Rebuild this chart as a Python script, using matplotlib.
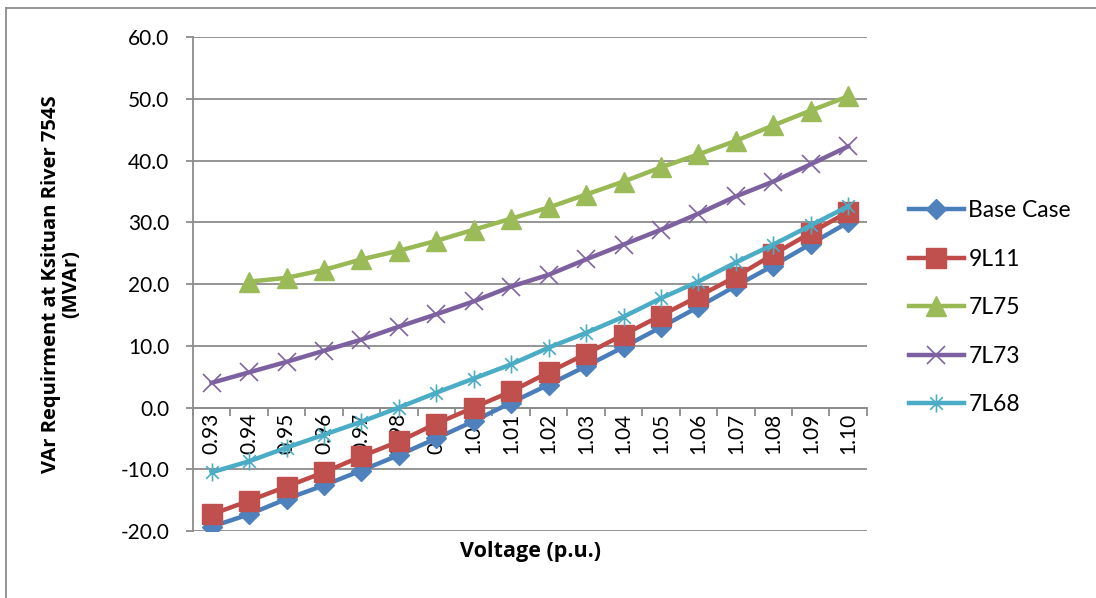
import numpy as np
import matplotlib.pyplot as plt
from matplotlib.lines import Line2D
from matplotlib.path import Path

plt.rcParams['font.family'] = ['Lato', 'DejaVu Sans']

voltages = ['0.93', '0.94', '0.95', '0.96', '0.97', '0.98', '0.99', '1.00', '1.01',
            '1.02', '1.03', '1.04', '1.05', '1.06', '1.07', '1.08', '1.09', '1.10']

base_case = [-19.3, -17.3, -14.8, -12.6, -10.2, -7.7, -5.0, -2.2, 0.8,
             3.7, 6.7, 9.8, 13.0, 16.3, 19.7, 23.0, 26.5, 30.0]
l9l11 = [-17.3, -15.1, -12.8, -10.5, -7.9, -5.5, -2.6, 0.0, 2.6,
         5.7, 8.7, 11.8, 14.9, 18.0, 21.2, 24.8, 28.3, 31.7]
l7l75 = [np.nan, 20.4, 21.0, 22.3, 24.0, 25.4, 27.0, 28.8, 30.6,
         32.4, 34.5, 36.6, 38.9, 41.0, 43.2, 45.7, 48.1, 50.4]
l7l73 = [4.0, 5.7, 7.4, 9.2, 11.0, 13.1, 15.1, 17.2, 19.6,
         21.5, 24.0, 26.4, 28.8, 31.4, 34.2, 36.6, 39.4, 42.3]
l7l68 = [-10.5, -8.7, -6.5, -4.4, -2.3, 0.0, 2.4, 4.7, 7.0,
         9.7, 12.1, 14.7, 17.7, 20.4, 23.5, 26.4, 29.5, 32.6]

# asterisk marker like excel's (x with a vertical bar)
star = Path([(0, -1), (0, 1), (-0.7, -0.7), (0.7, 0.7), (-0.7, 0.7), (0.7, -0.7)],
            [Path.MOVETO, Path.LINETO, Path.MOVETO, Path.LINETO, Path.MOVETO, Path.LINETO])

fig = plt.figure(figsize=(10.96, 5.98), dpi=100)
ax = fig.add_axes([0.176, 0.112, 0.615, 0.826])

x = np.arange(len(voltages))
lw = 3.2
ax.plot(x, base_case, color='#4A7EBB', lw=lw, marker='D', ms=10.5,
        mfc='#4F81BD', mec='#4F81BD', label='Base Case', zorder=3)
ax.plot(x, l9l11, color='#BE4B48', lw=lw, marker='s', ms=14,
        mfc='#C0504D', mec='#C0504D', label='9L11', zorder=3)
ax.plot(x, l7l75, color='#98B954', lw=lw, marker='^', ms=15,
        mfc='#9BBB59', mec='#9BBB59', label='7L75', zorder=3)
ax.plot(x, l7l73, color='#7D60A0', lw=lw, marker='x', ms=13, mew=1.2,
        mec='#8064A2', label='7L73', zorder=3)
ax.plot(x, l7l68, color='#4BACC6', lw=lw, marker=star, ms=13, mew=1.2,
        mec='#4BACC6', label='7L68', zorder=3)

ax.set_xlim(-0.5, len(voltages) - 0.5)
ax.set_ylim(-20, 60)
ax.set_yticks(np.arange(-20, 61, 10))
ax.set_yticklabels([f'{v:.1f}' for v in np.arange(-20, 61, 10)], fontsize=15)
ax.grid(axis='y', color='#8C8C8C', lw=1.3)
ax.set_axisbelow(True)

# category axis sits at zero, tick marks between categories
ax.spines['bottom'].set_position(('data', 0))
ax.spines['bottom'].set_color('#8C8C8C')
ax.spines['bottom'].set_linewidth(1.3)
ax.spines['left'].set_color('#8C8C8C')
ax.spines['left'].set_linewidth(1.3)
ax.spines['top'].set_visible(False)
ax.spines['right'].set_visible(False)
ax.set_xticks(np.arange(-0.5, len(voltages), 1))
ax.set_xticklabels([])
ax.tick_params(axis='x', which='major', length=6, color='#8C8C8C', width=1.3)
ax.set_xticks(x, minor=True)
ax.set_xticklabels(voltages, minor=True, rotation=90, fontsize=15)
ax.tick_params(axis='x', which='minor', length=0, pad=4)
ax.tick_params(axis='y', length=5, color='#8C8C8C', width=1.3, pad=12)

ax.set_ylabel('VAr Requirment at Ksituan River 754S\n(MVAr)', fontsize=14.5,
              fontweight='bold', family=['Open Sans', 'DejaVu Sans'], linespacing=1.05)
ax.yaxis.set_label_coords(-0.165, 0.5)
fig.text(0.484, 0.077, 'Voltage (p.u.)', fontsize=15.5, fontweight='bold',
         family=['Open Sans', 'DejaVu Sans'], ha='center', va='center')

ax.legend(loc='center left', bbox_to_anchor=(1.045, 0.452), frameon=False,
          fontsize=16.5, handlelength=2.4, labelspacing=1.2, handletextpad=0.2,
          borderpad=0.0)

# chart frame (top and left edge visible)
fig.add_artist(Line2D([0.0055, 1.0], [0.987, 0.987], color='#8C8C8C', lw=1.3))
fig.add_artist(Line2D([0.0055, 0.0055], [0.0, 0.987], color='#8C8C8C', lw=1.3))

fig.savefig('out.png', dpi=100)
